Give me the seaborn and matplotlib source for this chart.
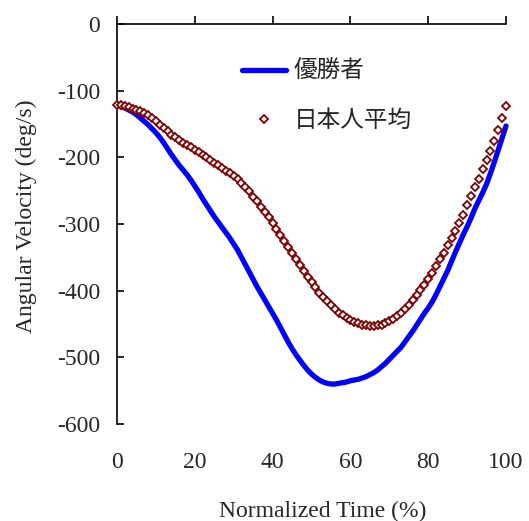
import numpy as np
import pandas as pd
import matplotlib
matplotlib.use("Agg")
import matplotlib.pyplot as plt
import seaborn as sns

# ---- data ----
time_pct = list(range(0, 101))

winner = [
    -122, -124, -126, -129, -132, -136, -141, -146, -151, -157,
    -163, -170, -178, -187, -196, -204, -212, -219, -226, -234,
    -243, -252, -262, -271, -280, -289, -297, -305, -313, -321,
    -330, -339, -350, -361, -372, -383, -394, -404, -414, -424,
    -434, -444, -455, -466, -477, -487, -496, -504, -512, -519,
    -525, -530, -534, -537, -539, -540, -540, -539, -538, -537,
    -535, -534, -533, -531, -529, -526, -523, -519, -514, -509,
    -503, -497, -491, -485, -477, -469, -461, -452, -443, -434,
    -426, -417, -406, -394, -382, -370, -356, -342, -329, -316,
    -304, -291, -277, -265, -253, -240, -224, -207, -189, -171,
    -153,
]

japan_avg = [
    -122, -122, -123, -125, -127, -129, -131, -134, -137, -141,
    -146, -151, -156, -161, -166, -170, -174, -178, -182, -185,
    -189, -192, -196, -200, -204, -208, -212, -216, -220, -224,
    -228, -233, -238, -244, -251, -259, -266, -274, -282, -290,
    -298, -307, -316, -325, -334, -343, -352, -361, -370, -379,
    -387, -395, -403, -410, -416, -422, -428, -433, -437, -441,
    -444, -447, -449, -451, -452, -453, -453, -452, -451, -449,
    -446, -442, -438, -433, -427, -421, -414, -407, -399, -391,
    -382, -373, -363, -353, -343, -332, -321, -310, -298, -286,
    -272, -258, -245, -232, -218, -204, -190, -175, -159, -141,
    -123,
]

series_names = ["優勝者", "日本人平均"]
x_ticks = [0, 20, 40, 60, 80, 100]
y_ticks = [0, -100, -200, -300, -400, -500, -600]
x_label = "Normalized Time (%)"
y_label = "Angular Velocity (deg/s)"

df = pd.DataFrame({"t": time_pct, "winner": winner, "japan": japan_avg})

# ---- style ----
sns.set_theme(style="white")
plt.rcParams["font.family"] = ["Liberation Serif", "DejaVu Serif"]
plt.rcParams["axes.unicode_minus"] = False

fig = plt.figure(figsize=(5.29, 5.21), dpi=100)
ax = fig.add_axes([117 / 529, 1 - 424 / 521, (506 - 117) / 529, 400 / 521])

sns.lineplot(data=df, x="t", y="winner", ax=ax, color="#0000FF", linewidth=3.8,
             label=series_names[0], clip_on=False, zorder=2)
sns.lineplot(data=df, x="t", y="japan", ax=ax, linestyle="", marker="D",
             markersize=3.7, markerfacecolor="white", markeredgecolor="#800000",
             markeredgewidth=1.3, color="#800000", label=series_names[1],
             clip_on=False, zorder=3)

ax.set_xlim(0, 100)
ax.set_ylim(-600, 0)
ax.set_xticks(x_ticks)
ax.set_yticks(y_ticks)
ax.set_xticklabels([str(v) for v in x_ticks])
ax.set_yticklabels([str(v) for v in y_ticks])

for s in ["right", "bottom"]:
    ax.spines[s].set_visible(False)
for s in ["left", "top"]:
    ax.spines[s].set_visible(True)
    ax.spines[s].set_color("black")
    ax.spines[s].set_linewidth(1.2)

ax.tick_params(axis="x", which="both", bottom=False, top=True, labelbottom=True,
               labeltop=False, direction="out", length=6, width=1.2, color="black",
               labelsize=17, pad=14)
ax.tick_params(axis="y", which="both", left=True, right=False, direction="in",
               length=5, width=1.2, color="black", labelsize=17, pad=12)

ax.set_xlabel(x_label, fontsize=17)
ax.set_ylabel(y_label, fontsize=17)
ax.xaxis.set_label_coords((323 - 117) / 389, (424 - 501) / 400)
ax.yaxis.set_label_coords((37 - 117) / 389, (424 - 216) / 400)

leg = ax.legend(loc="upper left", bbox_to_anchor=((242 - 117) / 389, (424 - 60) / 400),
                frameon=False, handlelength=1.85, handletextpad=0.35, labelspacing=1.12,
                prop={"family": ["Noto Sans CJK JP", "DejaVu Sans"], "size": 17},
                borderaxespad=0, borderpad=0)

ax.grid(False)
fig.savefig("out.png", dpi=100, facecolor="white")
